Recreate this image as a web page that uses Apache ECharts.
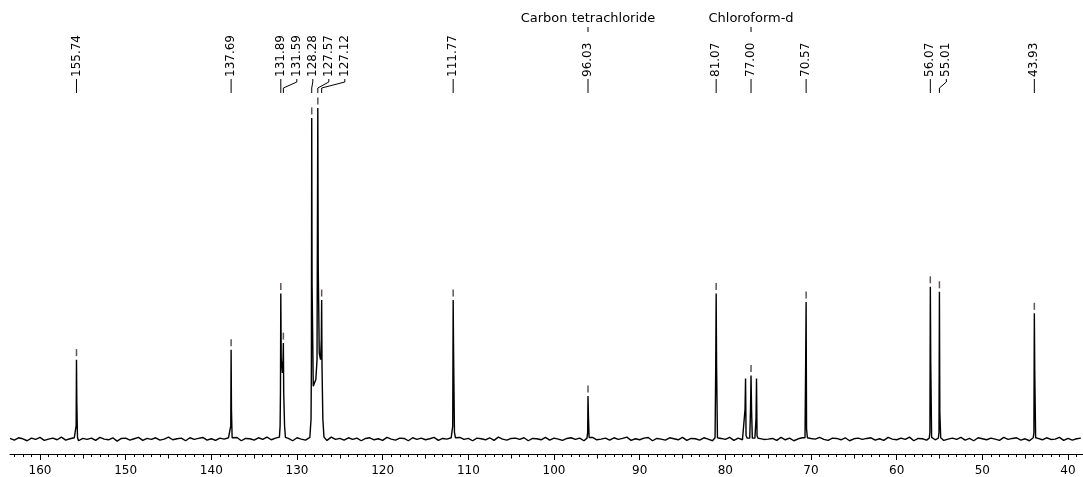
<!DOCTYPE html>
<html>
<head>
<meta charset="utf-8">
<script src="https://cdn.jsdelivr.net/npm/echarts@6/dist/echarts.min.js"></script>
<style>
html,body{margin:0;padding:0;background:#fff;}
#main{width:1083px;height:477px;}
</style>
</head>
<body>
<div id="main"></div>
<script>
// picked peaks (ppm) and their top intensity
var peakShifts = [155.74,137.69,131.89,131.59,128.28,127.57,127.12,111.77,96.03,81.07,77.00,70.57,56.07,55.01,43.93];
var peakHeights = [24,27,44,29,97,100,42,42,13,44,19.2,41.4,46,44.5,38];
var solventShifts = [96.03,77.00];
var solventNames = ['Carbon tetrachloride','Chloroform-d'];
var tickLabels = [160,150,140,130,120,110,100,90,80,70,60,50,40];
var midTicks = [155,145,135,125,115,105,95,85,75,65,55,45];

// baseline noise, 163.5 -> 38.5 ppm every 0.5 ppm
var basePpm0 = 163.5, baseStep = 0.5;
var baseNoise = [
 0.2,-0.3,0.4,0.1,-0.5,0.3,-0.1,0.5,-0.4,0.0,0.3,-0.2,0.6,-0.3,0.1,0.4,-0.5,0.2,-0.1,0.3,
 -0.4,0.5,0.0,-0.2,0.4,-0.6,0.2,0.3,-0.3,0.1,0.5,-0.4,0.2,-0.1,0.4,-0.3,0.0,0.6,-0.2,0.1,
 0.3,-0.5,0.4,-0.1,0.2,0.5,-0.3,0.1,-0.4,0.3,0.0,0.4,-0.2,0.5,-0.5,0.2,0.1,-0.3,0.4,-0.1,
 0.6,-0.2,0.3,-0.4,0.1,0.2,-0.5,0.4,0.0,-0.3,0.5,0.1,-0.2,0.3,-0.4,0.6,-0.1,0.2,-0.3,0.4,
 -0.1,0.3,-0.5,0.2,0.4,-0.2,0.1,-0.4,0.5,0.0,-0.3,0.3,0.2,-0.5,0.4,-0.1,0.3,-0.2,0.1,0.5,
 -0.4,0.2,0.0,0.4,-0.3,0.5,-0.1,0.2,-0.5,0.3,0.1,-0.2,0.4,-0.4,0.6,0.0,-0.3,0.2,0.3,-0.1,
 0.4,-0.5,0.2,0.1,-0.2,0.5,-0.3,0.3,0.0,-0.4,0.2,0.4,-0.1,0.3,-0.5,0.1,0.5,-0.2,0.0,0.3,
 -0.3,0.4,-0.1,0.2,0.6,-0.4,0.1,-0.2,0.3,0.5,-0.5,0.2,0.0,-0.3,0.4,0.1,-0.2,0.5,-0.4,0.2,
 0.1,-0.3,0.4,0.0,-0.5,0.3,0.2,-0.1,0.5,-0.4,0.3,-0.2,0.1,0.4,-0.3,0.6,-0.1,0.0,0.2,-0.4,
 0.5,-0.2,0.3,-0.5,0.1,0.4,-0.3,0.2,0.0,0.5,-0.1,-0.4,0.3,0.2,-0.2,0.4,-0.5,0.1,0.3,-0.1,
 0.2,0.4,-0.3,0.1,-0.4,0.5,0.0,-0.2,0.3,-0.1,0.6,-0.5,0.2,0.1,-0.3,0.4,-0.2,0.3,-0.4,0.0,
 0.3,-0.1,0.5,-0.3,0.2,-0.5,0.4,0.1,-0.2,0.3,0.0,-0.4,0.5,-0.1,0.2,0.4,-0.3,0.1,-0.5,0.3,
 0.2,-0.2,0.4,-0.1,0.0,0.5,-0.4,0.2,-0.3,0.1,0.3
];

// peak line shapes [ppm, intensity], high ppm first
var peakShapes = [
 [[155.86,0.5],[155.78,4],[155.74,24],[155.70,11],[155.62,0.5]],
 [[137.80,0.5],[137.73,4],[137.69,27],[137.65,9],[137.57,0.4]],
 [[132.05,0.6],[131.97,4],[131.93,14],[131.89,44],[131.84,24],[131.70,20],[131.63,24],[131.59,29],[131.55,14],[131.45,4],[131.35,0.5]],
 [[128.45,0.5],[128.36,6],[128.32,22],[128.28,97],[128.24,47],[128.10,16],[127.80,18],[127.66,24],[127.57,100],[127.52,52],[127.40,26],[127.25,24],[127.16,30],[127.12,42],[127.08,22],[126.98,6],[126.85,0.6]],
 [[111.90,0.6],[111.82,4],[111.77,42],[111.72,26],[111.62,2],[111.50,0.4]],
 [[96.15,0.3],[96.07,2],[96.03,13],[95.98,7],[95.90,0.5]],
 [[81.20,0.4],[81.12,22],[81.07,44],[81.02,22],[80.92,0.4]],
 [[77.78,0.4],[77.70,9],[77.64,18.3],[77.58,1],[77.45,0.3],[77.15,0.3],[77.06,9],[77.00,19.2],[76.94,9],[76.85,0.3],[76.55,0.3],[76.42,6],[76.36,18.3],[76.30,1],[76.20,0.3]],
 [[70.70,0.4],[70.63,21],[70.57,41.4],[70.52,3],[70.42,0.4]],
 [[56.20,0.3],[56.12,2],[56.07,46],[56.02,23],[55.92,0.5]],
 [[55.14,0.3],[55.06,2],[55.01,44.5],[54.96,8],[54.86,0.4]],
 [[44.06,0.4],[43.98,2],[43.93,38],[43.88,20],[43.78,0.4]]
];

var trace = [];
baseNoise.forEach(function (v, i) {
  var p = basePpm0 - i * baseStep;
  var inside = peakShapes.some(function (s) {
    return p <= s[0][0] && p >= s[s.length - 1][0];
  });
  if (!inside) trace.push([p, v]);
});
peakShapes.forEach(function (s) { trace = trace.concat(s); });
trace.sort(function (a, b) { return b[0] - a[0]; });

var markers = [];
for (var i = 0; i < peakShifts.length; i++) markers.push([peakShifts[i], peakHeights[i]]);

var minorTicks = [];
for (var t = 39; t <= 163; t++) minorTicks.push(t);

var font = '"DejaVu Sans", sans-serif';
var xMin = 38.25, xMax = 163.5;

function tickAxis(values, len, showLine, showLabel) {
  return {
    type: 'value', inverse: true, min: xMin, max: xMax, position: 'bottom', offset: 0,
    axisLine: { show: showLine, onZero: false, lineStyle: { color: '#000', width: 1 } },
    axisTick: { show: true, length: len, customValues: values, lineStyle: { color: '#000' } },
    axisLabel: { show: showLabel, customValues: values, margin: 11, color: '#000', fontSize: 12, fontFamily: font },
    splitLine: { show: false }
  };
}

var myChart = echarts.init(document.getElementById('main'));
myChart.setOption({
  animation: false,
  backgroundColor: '#fff',
  grid: { left: 10, right: 0, top: 108, bottom: 21 },
  xAxis: [
    tickAxis(tickLabels, 6, true, true),
    tickAxis(midTicks, 4.5, false, false),
    tickAxis(minorTicks, 3, false, false)
  ],
  yAxis: { type: 'value', min: -4.5, max: 100, show: false },
  series: [
    {
      type: 'line',
      data: trace,
      showSymbol: false,
      symbol: 'none',
      clip: false,
      lineStyle: { color: '#000', width: 1.4 }
    },
    {
      type: 'scatter',
      data: markers,
      symbol: 'rect',
      symbolSize: [1.5, 7],
      symbolOffset: [0, -7],
      itemStyle: { color: '#3a2a2a' },
      clip: false
    }
  ]
});

// peak labels with bent connectors
var px = peakShifts.map(function (p) { return myChart.convertToPixel({ xAxisIndex: 0 }, p); });
var order = px.map(function (v, i) { return i; }).sort(function (a, b) { return px[a] - px[b]; });
var labelX = [];
var prev = -1e9;
order.forEach(function (i) {
  var lx = Math.max(px[i], prev + 16);
  labelX[i] = lx;
  prev = lx;
});

var elements = [];
peakShifts.forEach(function (p, i) {
  var lx = labelX[i], x = px[i];
  elements.push({
    type: 'text', x: lx, y: 77, rotation: Math.PI / 2,
    style: { text: p.toFixed(2), font: '12px ' + font, fill: '#000', align: 'left', verticalAlign: 'middle' }
  });
  elements.push({
    type: 'polyline',
    shape: { points: [[lx, 79], [lx, 82], [x, 88], [x, 93]] },
    style: { stroke: '#000', lineWidth: 1, fill: null }
  });
});
solventShifts.forEach(function (p, i) {
  var x = myChart.convertToPixel({ xAxisIndex: 0 }, p);
  elements.push({
    type: 'text', x: x, y: 19,
    style: { text: solventNames[i], font: '13px ' + font, fill: '#000', align: 'center', verticalAlign: 'middle' }
  });
  elements.push({
    type: 'line', shape: { x1: x, y1: 27, x2: x, y2: 32 },
    style: { stroke: '#000', lineWidth: 1 }
  });
});
myChart.setOption({ graphic: elements });

window.addEventListener('resize', function () { myChart.resize(); });
</script>
</body>
</html>
